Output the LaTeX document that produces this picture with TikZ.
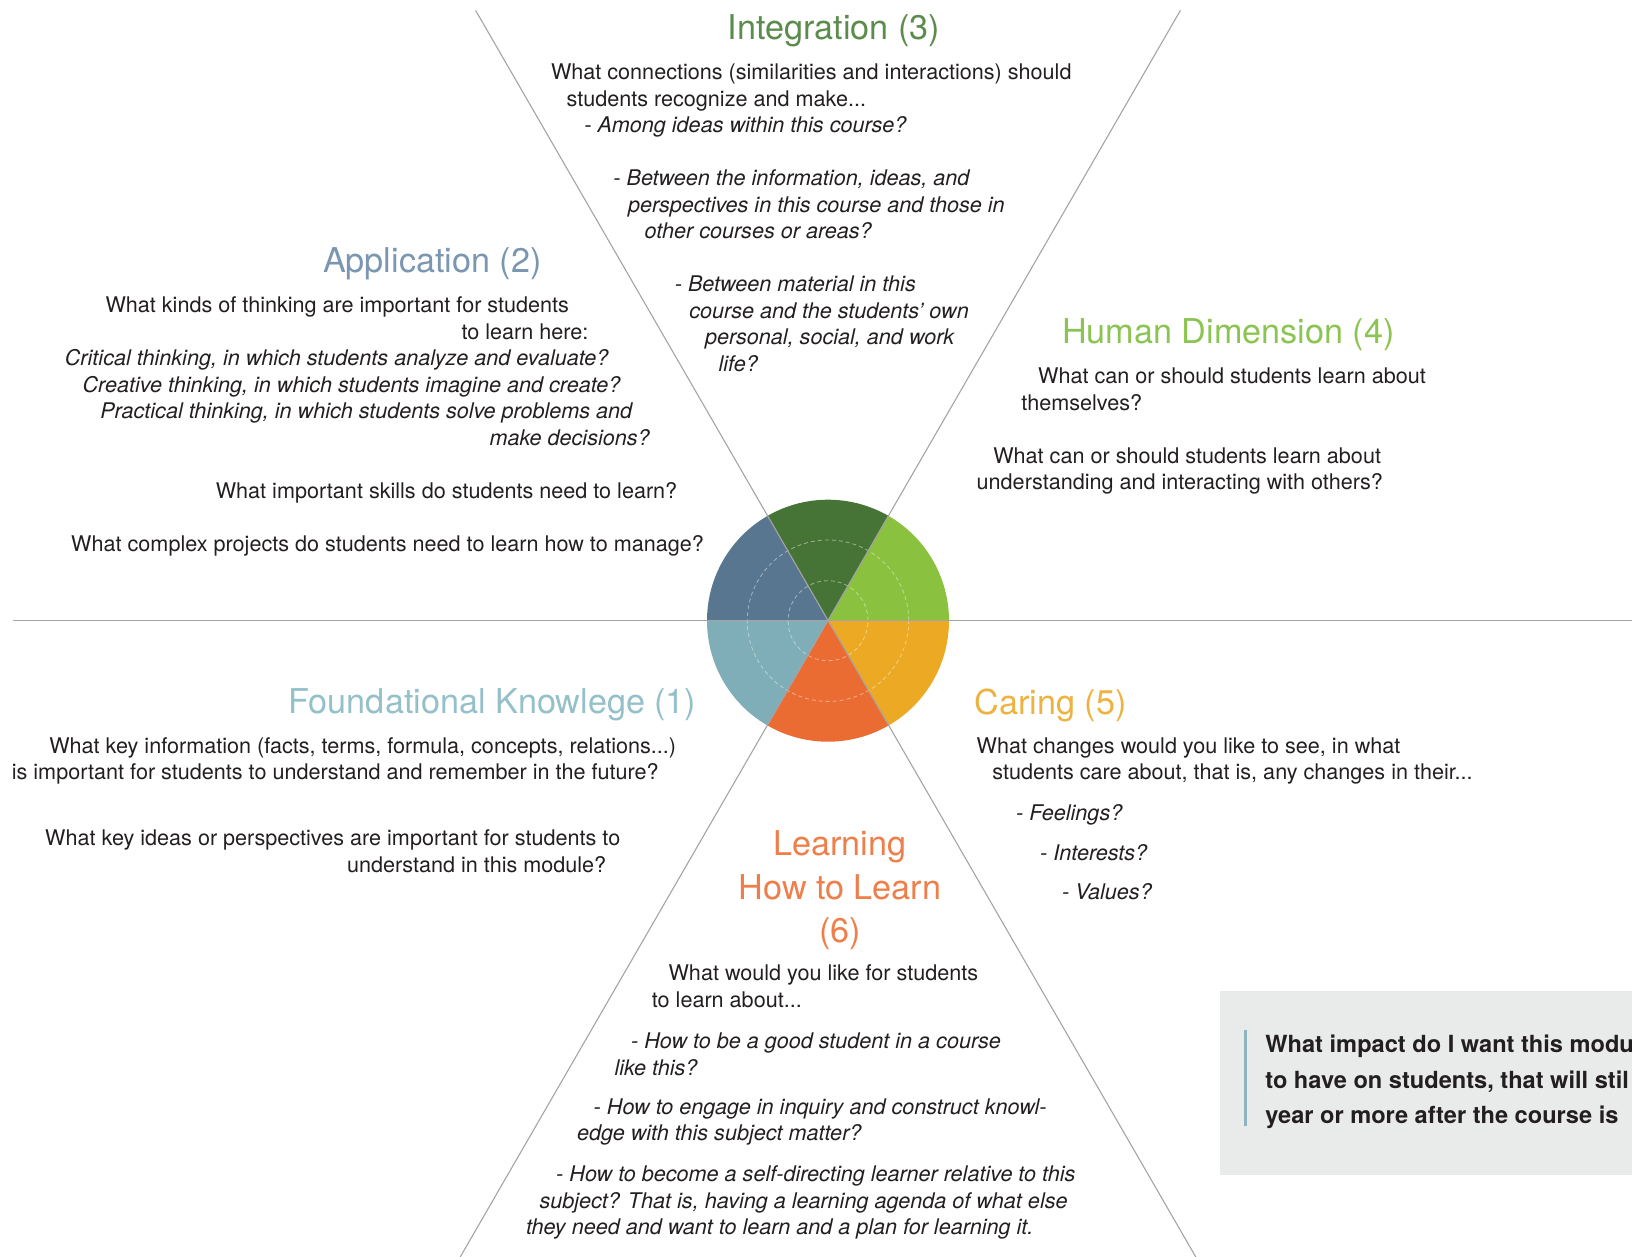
\documentclass[tikz,border=0pt]{standalone}
\usepackage{fontspec}
\setmainfont{TeX Gyre Heros}
\definecolor{bodyc}{HTML}{231F20}
\definecolor{linec}{HTML}{A4A4A4}
\definecolor{cInt}{HTML}{5C8C4C}
\definecolor{cApp}{HTML}{7A96B0}
\definecolor{cHum}{HTML}{8CC453}
\definecolor{cFou}{HTML}{93C0C9}
\definecolor{cCar}{HTML}{EEB240}
\definecolor{cLea}{HTML}{EE7F4A}
\definecolor{sTop}{HTML}{467436}
\definecolor{sTR}{HTML}{8AC13F}
\definecolor{sBR}{HTML}{ECA923}
\definecolor{sBot}{HTML}{EA6C33}
\definecolor{sBL}{HTML}{80AEB8}
\definecolor{sTL}{HTML}{58768F}
\definecolor{boxc}{HTML}{E9EBEA}
\definecolor{barc}{HTML}{8DB5C0}
\tikzset{
  body/.style={anchor=base west, inner sep=0pt, text=bodyc, font=\fontsize{10.8pt}{13pt}\selectfont},
  bodyit/.style={anchor=base west, inner sep=0pt, text=bodyc, font=\fontsize{10.8pt}{13pt}\selectfont\itshape},
  head/.style={anchor=base west, inner sep=0pt, font=\fontsize{17.1pt}{21pt}\selectfont},
  headc/.style={anchor=base, inner sep=0pt, font=\fontsize{17.1pt}{21pt}\selectfont},
  boldtxt/.style={anchor=base west, inner sep=0pt, text=bodyc, font=\fontsize{11.8pt}{14pt}\selectfont\bfseries},
  axis/.style={draw=linec, line width=0.55pt},
  ring/.style={draw=white, opacity=0.45, line width=0.4pt, dash pattern=on 2pt off 1.5pt},
}
\begin{document}
\begin{tikzpicture}[x=0.5pt,y=-0.5pt]
\useasboundingbox (0,0) rectangle (1632,1257);
\coordinate (c) at (828,620.7);
% wheel sectors
\fill[sTR]  (c) -- ++(0:60.5pt)   arc[start angle=0,   end angle=60,  radius=60.5pt] -- cycle;
\fill[sTop] (c) -- ++(60:60.5pt)  arc[start angle=60,  end angle=120, radius=60.5pt] -- cycle;
\fill[sTL]  (c) -- ++(120:60.5pt) arc[start angle=120, end angle=180, radius=60.5pt] -- cycle;
\fill[sBL]  (c) -- ++(180:60.5pt) arc[start angle=180, end angle=240, radius=60.5pt] -- cycle;
\fill[sBot] (c) -- ++(240:60.5pt) arc[start angle=240, end angle=300, radius=60.5pt] -- cycle;
\fill[sBR]  (c) -- ++(300:60.5pt) arc[start angle=300, end angle=360, radius=60.5pt] -- cycle;
\draw[ring] (c) circle[radius=20pt];
\draw[ring] (c) circle[radius=40.35pt];
% axes
\coordinate (hl) at (13,620.7);
\coordinate (hr) at (1632,620.7);
\coordinate (ul) at (475.6,10.4);
\coordinate (ur) at (1180.4,10.4);
\coordinate (ll) at (460.2,1257);
\coordinate (lr) at (1195.8,1257);
\draw[axis] (hl) -- (hr);
\draw[axis] (ul) -- (lr);
\draw[axis] (ur) -- (ll);
% Integration
\node[head, text=cInt] (intH) at (727.5,39.6) {Integration (3)};
\node[body] (int1) at (550.6,79.6) {What connections (similarities and interactions) should};
\node[body] (int2) at (566.2,106.1) {students recognize and make...};
\node[bodyit] (int3) at (583.9,132.6) {- Among ideas within this course?};
\node[bodyit] (int4) at (613.0,185.6) {- Between the information, ideas, and};
\node[bodyit] (int5) at (627.6,212.1) {perspectives in this course and those in};
\node[bodyit] (int6) at (644.3,238.6) {other courses or areas?};
\node[bodyit] (int7) at (674.4,291.6) {- Between material in this};
\node[bodyit] (int8) at (689.0,318.1) {course and the students’ own};
\node[bodyit] (int9) at (704.6,344.6) {personal, social, and work};
\node[bodyit] (int10) at (718.2,371.1) {life?};
% Application
\node[head, text=cApp] (appH) at (322.6,272.7) {Application (2)};
\node[body] (app1) at (105.1,312.8) {What kinds of thinking are important for students};
\node[body] (app2) at (461.1,339.3) {to learn here:};
\node[bodyit] (app3) at (64.5,365.8) {Critical thinking, in which students analyze and evaluate?};
\node[bodyit] (app4) at (82.2,392.3) {Creative thinking, in which students imagine and create?};
\node[bodyit] (app5) at (99.9,418.8) {Practical thinking, in which students solve problems and};
\node[bodyit] (app6) at (489.2,445.3) {make decisions?};
\node[body] (app7) at (215.4,498.3) {What important skills do students need to learn?};
\node[body] (app8) at (70.8,551.3) {What complex projects do students need to learn how to manage?};
% Human Dimension
\node[head, text=cHum] (humH) at (1061.6,343.5) {Human Dimension (4)};
\node[body] (hum1) at (1037.7,383.5) {What can or should students learn about};
\node[body] (hum2) at (1021.0,410.0) {themselves?};
\node[body] (hum3) at (992.9,463.0) {What can or should students learn about};
\node[body] (hum4) at (976.3,489.5) {understanding and interacting with others?};
% Foundational Knowledge
\node[head, text=cFou] (fouH) at (288.3,713.0) {Foundational Knowlege (1)};
\node[body] (fou1) at (48.9,753.0) {What key information (facts, terms, formula, concepts, relations...)};
\node[body] (fou2) at (11.4,779.5) {is important for students to understand and remember in the future?};
\node[body] (fou3) at (44.8,845.6) {What key ideas or perspectives are important for students to};
\node[body] (fou4) at (346.6,872.1) {understand in this module?};
% Caring
\node[head, text=cCar] (carH) at (974.2,714.0) {Caring (5)};
\node[body] (car1) at (976.3,753.0) {What changes would you like to see, in what};
\node[body] (car2) at (991.9,779.5) {students care about, that is, any changes in their...};
\node[bodyit] (car3) at (1015.8,820.7) {- Feelings?};
\node[bodyit] (car4) at (1039.8,860.2) {- Interests?};
\node[bodyit] (car5) at (1061.6,899.8) {- Values?};
% Learning How to Learn
\node[headc, text=cLea] (leaH1) at (840,855.5) {Learning};
\node[headc, text=cLea] (leaH2) at (840,899.3) {How to Learn};
\node[headc, text=cLea] (leaH3) at (840,942.0) {(6)};
\node[body] (lea1) at (668.2,980.9) {What would you like for students};
\node[body] (lea2) at (651.5,1007.4) {to learn about...};
\node[bodyit] (lea3) at (630.7,1048.6) {- How to be a good student in a course};
\node[bodyit] (lea4) at (614.1,1075.1) {like this?};
\node[bodyit] (lea5) at (593.3,1114.2) {- How to engage in inquiry and construct knowl-};
\node[bodyit] (lea6) at (576.6,1140.7) {edge with this subject matter?};
\node[bodyit] (lea7) at (555.8,1181.8) {- How to become a self-directing learner relative to this};
\node[bodyit] (lea8) at (539.1,1208.3) {subject? That is, having a learning agenda of what else};
\node[bodyit] (lea9) at (525.6,1234.8) {they need and want to learn and a plan for learning it.};
% impact box
\fill[boxc] (1220,991) rectangle (1632,1175);
\fill[barc] (1244.3,1030) rectangle (1247,1125.7);
\node[boldtxt] (imp1) at (1265,1052.5) {What impact do I want this modu};
\node[boldtxt] (imp2) at (1265,1088.0) {to have on students, that will stil};
\node[boldtxt] (imp3) at (1265,1123.5) {year or more after the course is};
\end{tikzpicture}
\end{document}
